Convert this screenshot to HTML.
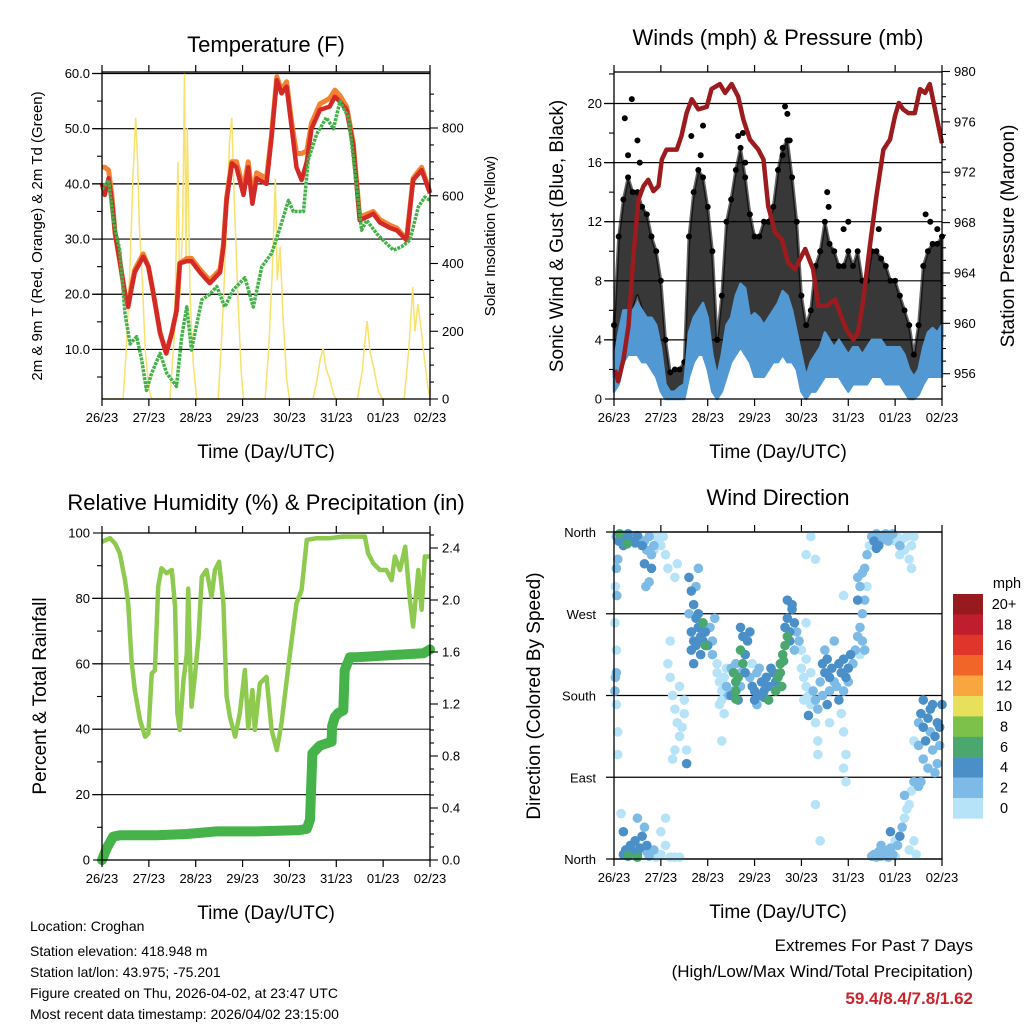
<!DOCTYPE html>
<html><head><meta charset="utf-8"><style>
html,body{margin:0;padding:0;background:#fff;}
svg{display:block;font-family:"Liberation Sans",Arial,sans-serif;}
</style></head><body>
<svg id="c" width="1024" height="1024" viewBox="0 0 1024 1024" xmlns="http://www.w3.org/2000/svg"></svg>
<script>
// ---------- DATA ----------
const dayLabels = ["26/23","27/23","28/23","29/23","30/23","31/23","01/23","02/23"];
// Temperature panel
const tempT = [0,.06,.14,.21,.28,.38,.49,.56,.63,.70,.88,.99,1.10,1.24,1.37,1.49,1.59,1.66,1.81,1.91,2.09,2.30,2.52,2.59,2.66,2.77,2.87,3.02,3.12,3.21,3.30,3.51,3.62,3.73,3.83,3.94,4.05,4.15,4.26,4.37,4.47,4.65,4.86,4.97,5.08,5.22,5.36,5.50,5.65,5.79,5.93,6.15,6.29,6.50,6.64,6.82,7.0];
const temp2m = [40,38,41,37,31,26,20,17.7,21,24,26.8,25,20,13,9.3,13,17,25.6,26,26,24,22,24,28.6,37,43.7,43,38,43,36.4,41,40,48.5,58.8,56.4,57.6,50,43,40.7,44,50,53.4,54,55.8,54.9,53.4,47,33.4,34,34.6,33,32,31.6,29.8,40.7,42.5,38.3];
const temp9m = [43,43,42.5,38,31,26,20,18,21.5,24.5,27.3,25,20,13,9.3,13,17,25.6,26.5,26.5,24.5,22.5,24.5,29,37.5,44,44,39,44,37.5,42,41,49,59.4,57,58.5,51,45.5,45.5,46,51,54.5,55.5,57,56,54,47.5,34,34.5,35,33.5,32.5,32,30,41,43,38.5];
const dewT = [0,.14,.24,.38,.49,.60,.74,.85,.95,1.06,1.24,1.38,1.59,1.70,1.81,1.91,2.13,2.30,2.45,2.62,2.80,3.05,3.23,3.41,3.62,3.76,3.98,4.08,4.30,4.40,4.58,4.79,4.94,5.08,5.26,5.36,5.54,5.65,5.86,6.07,6.22,6.39,6.57,6.75,6.89,7.0];
const dewVal = [39,40.7,33.4,28,16.5,11,12.3,8,2.6,5.7,9.3,5.7,3.3,12.3,17.7,9.9,19,20,21.4,17.7,20.8,23,17.7,25,27.4,31,37,35,35,44.3,49,52,50,55,52,44.9,31.6,33.4,31,29.2,28,28.6,29.8,35.8,37.6,37];
const solarT = [0,.45,.52,.6,.66,.72,.76,.8,.86,.92,1.0,1.06,1.45,1.55,1.62,1.66,1.72,1.76,1.79,1.82,1.88,1.95,2.02,2.48,2.56,2.64,2.72,2.77,2.82,2.9,2.97,3.02,3.48,3.56,3.64,3.7,3.74,3.8,3.86,3.94,4.0,4.5,4.58,4.66,4.72,4.78,4.86,4.95,5.0,5.45,5.55,5.62,5.66,5.72,5.8,5.9,6.0,6.45,6.55,6.63,6.68,6.74,6.8,6.88,6.95,7.0];
const solarVal = [0,0,150,400,650,830,700,500,350,150,30,0,0,200,700,300,500,960,400,800,300,100,0,0,200,450,760,830,600,300,80,0,0,150,400,650,350,450,250,60,0,0,50,120,150,90,60,10,0,0,80,180,230,140,90,20,0,0,150,330,200,280,220,120,40,0];
// Winds panel (every 0.1 day from 0 to 7)
const windLo = [0.5,1,2.5,3,3,3,2.5,2.5,2,1.5, 0.5,0,0,0,0,0,1.5,2.5,3,3, 2,0.5,0,0.5,1.5,2.5,3,3.5,3,2.5, 1.5,1.5,1.5,2,2.5,2.5,3,2.5,2.5,2, 0.5,0,0.5,0.5,1,1.5,1.5,1.5,1.5,1, 0.5,1,1,1,1,1.5,1.5,1.5,1,1, 1,1,0.5,0,0,0.3,1,1.5,1.5,1.5, 1.5];
const windHi = [2.5,4.5,6,6,6,6.5,6,5.5,5.5,5, 3.5,1,0.5,0.5,0.8,1,4.5,5.5,6,6.5, 5.5,3,1.5,3,5,5.5,7,7.8,7.5,5.5, 5.8,5.5,5,5.5,6,6.5,7.3,7,6,4.5, 3,1.5,2.5,3,3.5,4.5,4,3.5,4,3.5, 3,3.5,3.5,3,3.5,4,4,4,3.5,3.5, 3.5,3.5,3,2,1.5,2,3.5,4.5,4.8,4.5, 5];
const gustLo = [1.5,3,5,6,6,7,6,5.5,4.5,3, 2,1,0.5,0.5,0.5,0.5,3,5,6,6, 4,2,0.5,1,3,5,6,6,6,5, 4,5,5,4.5,5,6,6.5,6,5,4, 1.5,1,1,2,3,4,4,3.5,3,3, 2.5,3,2,1.5,2,3,3.5,3.5,3,3, 2.5,2,1.5,1,0.5,1,3,4,4.5,4, 4];
const gustHi = [5,11,13.5,15,14,14,13,12.5,11,10, 8,4,1.8,2,2,2.5,11,14,15.5,15, 13,10,4,7,12,13.5,15.5,17,15,12.5, 11,11,12,12,13,15.5,17,17.5,15,12, 7,5,6,9,10,12,10.5,10,9,9, 10,9,10,8,8,10,10,9.5,9,8, 8,7,6,5,3,5,9,10,10.5,10.5, 11];
const gustOutT = [0.38,0.23,0.5,0.55,0.3,1.65,1.9,1.85,2.75,2.65,2.8,3.65,3.7,3.75,3.6,4.55,4.58,4.9,5.65,5.0,6.65,6.75,6.9];
const gustOutV = [20.3,19,17.5,16,16.5,17.8,18.5,16.5,18,17.8,16,19.8,19.3,17.5,16.5,14,13,11.5,11.5,12,12.5,12,11.5];
const presT = [.02,.09,.20,.31,.41,.52,.63,.73,.84,.95,1.02,1.12,1.34,1.44,1.55,1.66,1.80,1.98,2.08,2.26,2.37,2.51,2.65,2.76,2.90,3.08,3.19,3.29,3.44,3.58,3.72,3.86,4.08,4.25,4.36,4.54,4.72,4.82,4.96,5.11,5.21,5.32,5.46,5.60,5.75,5.89,6.00,6.08,6.17,6.28,6.42,6.53,6.64,6.74,6.85,7.0];
const presVal = [956.3,955.4,957.1,959.8,965.1,969.8,970.9,971.4,970.5,970.9,973,973.8,973.8,974.9,976.7,977.8,977,977.2,978.6,979,978.3,979,978,976.2,974.6,973.8,973,969.3,967.2,966.7,964.8,964.3,965.9,964.3,961.4,961.4,961.9,960.8,959.5,958.7,959.3,961.9,966.1,970.1,973.8,974.6,976.5,977.5,977,976.7,976.7,978.6,978.3,979,977,974.3];
// RH & precipitation panel
const rhT = [0,.17,.28,.38,.49,.56,.63,.70,.81,.92,.99,1.06,1.13,1.20,1.27,1.38,1.49,1.56,1.61,1.66,1.74,1.81,1.84,1.91,1.98,2.06,2.13,2.23,2.34,2.41,2.50,2.59,2.66,2.73,2.84,2.94,3.05,3.12,3.21,3.26,3.37,3.51,3.62,3.73,3.83,4.01,4.15,4.26,4.37,4.58,4.86,5.15,5.43,5.61,5.68,5.79,5.93,6.07,6.18,6.25,6.36,6.47,6.57,6.64,6.75,6.82,6.89,7.0];
const rhVal = [97.3,98.4,96.8,93.8,85.6,78.5,61,52,42.8,37.7,38.7,57,58,83.6,89.2,87.7,88.7,77.5,44.9,39.8,55,63,83,46.9,56,68,86.6,88.7,80.5,88.7,91.2,78.5,50,43.8,37.7,44.9,58.1,40.3,52,39.8,54,56,39.8,33.6,41.8,63,78.5,82.6,97.9,98.4,98.4,98.9,98.9,98.9,93.8,90.7,88.7,88.7,85.6,92.8,88.7,95.8,79.5,71.4,88.7,76.5,92.8,92.8];
const rainT = [0,.10,.24,.38,1.17,1.81,2.45,3.30,4.22,4.37,4.44,4.49,4.65,4.90,4.91,4.97,5.04,5.15,5.18,5.29,5.43,6.86,7.0];
const rainVal = [0,0.09,0.18,0.19,0.19,0.2,0.22,0.22,0.23,0.24,0.31,0.82,0.88,0.91,1.03,1.1,1.13,1.15,1.46,1.56,1.56,1.59,1.62];
// Wind direction panel
const dirT = [0.05,0.1,0.15,0.2,0.25,0.3,0.35,0.4,0.45,0.5,0.55,0.6,0.65,0.7,0.75,0.8,0.85,0.9,0.12,0.28,0.08,0.05,0.65,0.8,0.68,0.75,0.85,0.95,1.0,1.05,1.1,1.15,
0.03,0.06,0.02,0.05,0.03,0.02,0.05,0.08,0.08,0.05,
0.2,0.25,0.3,0.35,0.4,0.45,0.5,0.55,0.6,0.65,0.7,0.75,0.85,0.9,1.0,1.1,1.2,1.3,1.4,0.3,0.5,0.2,0.7,0.5,1.1,1.0,0.15,
1.2,1.25,1.3,1.35,1.4,1.45,1.5,1.55,1.4,1.3,1.25,1.55,1.5,1.15,1.2,1.3,1.35,
1.6,1.65,1.7,1.75,1.8,1.85,1.9,1.95,2.0,2.05,2.1,1.65,1.7,1.75,1.8,1.9,1.95,1.85,1.7,1.75,1.8,1.6,2.1,2.15,1.65,
2.2,2.25,2.3,2.35,2.4,2.45,2.5,2.55,2.6,2.65,2.7,2.3,2.2,2.25,2.4,2.5,2.6,2.7,2.35,2.3,
2.55,2.6,2.65,2.7,2.75,2.8,2.75,2.7,2.85,2.9,2.6,2.8,2.6,
2.9,2.95,3.0,3.05,3.1,3.15,3.2,3.25,3.3,3.35,3.4,3.45,3.0,3.2,3.1,2.95,3.05,3.3,3.45,
3.5,3.55,3.6,3.65,3.7,3.55,3.62,3.58,
3.65,3.7,3.75,3.8,3.85,3.9,3.95,3.75,3.85,3.7,3.8,4.0,4.1,4.1,4.2,4.3,
4.0,4.05,4.1,4.15,4.2,4.25,4.3,4.35,4.4,4.45,4.1,4.2,4.3,4.35,4.35,4.3,4.4,4.15,4.05,
4.45,4.5,4.55,4.6,4.65,4.7,4.75,4.8,4.85,4.9,4.95,5.0,5.05,5.1,5.15,4.5,4.6,4.7,4.9,5.0,4.8,4.85,4.9,4.95,4.9,4.95,4.55,4.6,4.9,
5.2,5.25,5.3,5.35,5.3,5.35,5.25,5.25,5.3,5.35,5.4,5.45,5.2,5.2,5.4,
5.5,5.55,5.6,5.65,5.7,5.75,5.8,5.85,5.9,5.95,6.0,6.05,6.1,6.15,6.2,6.25,6.3,6.35,6.4,6.35,5.6,6.1,
5.5,5.55,5.6,5.65,5.7,5.75,5.8,5.85,5.9,5.95,6.0,6.05,6.1,6.15,6.2,6.25,6.3,6.35,6.4,6.45,5.9,6.0,6.2,6.3,5.7,6.4,6.55,6.5,
6.5,6.55,6.6,6.65,6.7,6.75,6.8,6.85,6.9,6.95,7.0,6.6,6.7,6.8,6.9,6.5,6.6,6.75,6.85,6.95,6.4];
const dirDeg = [355,350,357,345,352,358,350,354,348,356,352,345,350,340,355,335,345,355,358,347,330,320,325,320,300,305,340,350,345,355,335,320,
300,290,260,230,200,185,170,140,115,205,
5,10,3,15,8,20,5,12,25,35,8,3,10,2,5,15,2,2,2,4,2,30,15,45,45,30,50,
200,180,165,150,135,145,160,120,190,120,110,105,175,215,240,310,325,
310,295,280,265,255,245,240,250,235,255,240,250,240,235,270,260,235,225,215,300,320,270,225,265,230,
205,195,185,200,190,180,210,185,195,175,190,175,215,170,210,180,215,205,160,130,
205,195,200,230,215,225,245,255,240,250,185,205,176,
200,190,185,205,180,195,185,200,190,210,205,195,175,178,210,215,170,175,185,
200,215,225,235,245,205,218,190,
255,265,250,275,260,250,240,240,230,285,280,230,260,335,355,330,
210,200,190,180,170,185,175,165,195,180,220,205,150,130,115,60,20,158,175,
215,205,220,200,210,195,190,215,205,220,200,210,225,215,230,230,185,240,185,195,175,160,140,115,100,85,170,150,290,
245,255,270,285,240,230,225,300,315,320,335,345,285,310,300,
355,350,358,345,356,352,358,350,356,358,350,355,345,352,340,355,330,320,355,345,342,335,
3,5,2,8,3,10,4,2,12,5,3,15,25,35,45,55,60,75,20,5,30,20,70,10,15,85,85,80,
150,160,145,130,155,140,120,135,150,125,170,110,100,170,105,125,175,165,95,145,130];
const dirSpd = [3,5,5,5,5,5,5,3,5,5,3,5,3,3,3,3,3,1,7,7,3,3,5,5,3,3,1,1,1,1,1,1,
1,3,1,1,3,3,1,1,1,3,
5,5,5,5,5,5,5,5,5,3,3,3,3,1,1,1,1,1,1,7,7,5,5,3,1,1,1,
1,1,1,1,1,1,1,1,1,1,1,5,1,1,1,1,1,
5,5,5,5,5,5,5,5,5,3,3,5,5,5,5,7,7,5,5,3,3,3,3,3,5,
1,1,1,1,3,3,3,3,3,5,3,1,1,1,1,5,3,3,1,1,
7,7,7,7,7,5,5,5,5,5,7,5,7,
3,5,5,3,5,5,5,5,5,5,5,5,5,5,3,1,3,7,7,
7,7,7,7,7,7,7,7,
5,5,5,5,5,3,3,5,3,5,5,1,1,1,1,1,
1,1,1,1,1,3,3,3,3,3,1,1,1,1,1,1,1,5,1,
5,5,5,5,5,3,3,5,5,5,5,5,5,3,3,3,3,3,3,3,5,1,1,1,1,1,5,1,1,
3,3,3,3,3,3,1,3,3,3,3,1,5,3,1,
3,5,3,5,3,3,3,3,3,3,1,1,3,1,1,1,1,1,1,1,5,1,
3,3,3,3,3,3,3,3,3,3,1,3,5,3,1,1,1,1,1,1,5,1,3,1,3,3,3,3,
3,5,5,5,5,3,3,5,5,3,5,3,3,5,3,3,5,5,3,5,1];
const cbLabels = ["20+","18","16","14","12","10","8","6","4","2","0"];
const cbColors = ["#961a1e","#be1e2d","#e0352b","#f26529","#f9a540","#e8e05a","#7cc24a","#4aa86e","#4a8fc8","#7dbbe6","#b6e3f8"];

// ---------- HELPERS ----------
const NS="http://www.w3.org/2000/svg";
const svg=document.getElementById('c');
function mk(tag,attrs,parent,txt){const e=document.createElementNS(NS,tag);for(const k in attrs)e.setAttribute(k,attrs[k]);if(txt!==undefined)e.textContent=txt;(parent||svg).appendChild(e);return e;}
function grp(name){const g=mk('g',{});return g;}
function lin(d0,d1,r0,r1){return v=>r0+(v-d0)/(d1-d0)*(r1-r0);}
function pathFrom(ts,vs,xf,yf){return ts.map((t,i)=>(i?'L':'M')+xf(t).toFixed(1)+','+yf(vs[i]).toFixed(1)).join('');}
function text(g,x,y,s,size,anchor,extra){const a=Object.assign({x:x,y:y,'font-size':size,'text-anchor':anchor||'middle',fill:'#000'},extra||{});return mk('text',a,g,s);}

function frame(g,L,R,T,B){
  mk('rect',{x:L,y:T,width:R-L,height:B-T,fill:'none',stroke:'#000','stroke-width':1.3},g);
}
function xAxis(g,L,R,T,B){
  const xs=lin(0,7,L,R);
  for(let i=0;i<8;i++){
    const x=xs(i);
    mk('line',{x1:x,y1:B,x2:x,y2:B+7,stroke:'#000','stroke-width':1.2},g);
    mk('line',{x1:x,y1:T,x2:x,y2:T-7,stroke:'#000','stroke-width':1.2},g);
    const lab=text(g,x,B+23,dayLabels[i],13);
    
    
  }
  const tt=text(g,(L+R)/2,B+59,'Time (Day/UTC)',19);
  
  
  return xs;
}
function yTicks(g,side,edge,ys,vals,fmt,len){
  vals.forEach(v=>{const y=ys(v);
    const x2=side==='L'?edge-len:edge+len;
    mk('line',{x1:edge,y1:y,x2:x2,y2:y,stroke:'#000','stroke-width':1.1},g);
    if(fmt){const t=text(g,side==='L'?edge-12:edge+12,y+4.5,fmt(v),13,side==='L'?'end':'start');
      
      }
  });
}
function vtitle(g,x,y,s,size,name){const t=text(g,x,y,s,size,'middle',{transform:'rotate(-90 '+x+' '+y+')'});
  
  return t;}

// ---------- PANEL 1: Temperature ----------
(function(){
  const g=grp('temperature-panel');
  const L=102,R=430,T=72,B=399;
  const xs=lin(0,7,L,R), ys=lin(0,60,404.6,73.5), ss=lin(0,800,399,128);
  [10,20,30,40,50,60].forEach(v=>mk('line',{x1:L-10,y1:ys(v),x2:R,y2:ys(v),stroke:'#000','stroke-width':1.2},g));
  mk('path',{d:pathFrom(solarT,solarVal,xs,ss),fill:'none',stroke:'#f8e16c','stroke-width':1.5},g);
  mk('path',{d:pathFrom(tempT,temp9m,xs,ys),fill:'none',stroke:'#f58231','stroke-width':5,'stroke-linejoin':'round'},g);
  mk('path',{d:pathFrom(tempT,temp2m,xs,ys),fill:'none',stroke:'#d42a27','stroke-width':4.5,'stroke-linejoin':'round'},g);
  mk('path',{d:pathFrom(dewT,dewVal,xs,ys),fill:'none',stroke:'#46b04a','stroke-width':3.5,'stroke-linejoin':'round','stroke-dasharray':'3 1'},g);
  frame(g,L,R,T,B);
  yTicks(g,'L',L,ys,[10,20,30,40,50,60],v=>v.toFixed(1),9);
  yTicks(g,'L',L,ys,[5,15,25,35,45,55],null,5);
  yTicks(g,'R',R,ss,[0,200,400,600,800],v=>String(v),8);
  yTicks(g,'R',R,ss,[50,100,150,250,300,350,450,500,550,650,700,750,850,900],null,4);
  xAxis(g,L,R,T,B);
  const t=text(g,266,52,'Temperature (F)',22);
  vtitle(g,42,236,'2m & 9m T (Red, Orange) & 2m Td (Green)',15,'temperature-y-title');
  vtitle(g,495,236,'Solar Insolation (Yellow)',15,'solar-y-title');
})();

// ---------- PANEL 2: Winds ----------
(function(){
  const g=grp('winds-panel');
  const L=614,R=942,T=72,B=399;
  const xs=lin(0,7,L,R), ys=lin(0,20,399,103.5), ps=lin(956,980,373.7,71.5);
  [4,8,12,16,20].forEach(v=>mk('line',{x1:L-10,y1:ys(v),x2:R,y2:ys(v),stroke:'#000','stroke-width':1.2},g));
  const idx=gustLo.map((_,i)=>i*0.1);
  let d='M'+idx.map((t,i)=>xs(t).toFixed(1)+','+ys(gustHi[i]).toFixed(1)).join('L');
  d+='L'+idx.slice().reverse().map((t,j)=>{const i=idx.length-1-j;return xs(t).toFixed(1)+','+ys(gustLo[i]).toFixed(1);}).join('L')+'Z';
  mk('path',{d:d,fill:'#000','fill-opacity':0.78,stroke:'#000','stroke-width':3,'stroke-linejoin':'round','stroke-opacity':0.6},g);
  idx.forEach((t,i)=>{const c=mk('circle',{cx:xs(t),cy:ys(gustHi[i]),r:3,fill:'#000'},g);
    });
  gustOutT.forEach((t,i)=>{const c=mk('circle',{cx:xs(t),cy:ys(gustOutV[i]),r:3,fill:'#000'},g);
    });
  let w='M'+idx.map((t,i)=>xs(t).toFixed(1)+','+ys(windHi[i]).toFixed(1)).join('L');
  w+='L'+idx.slice().reverse().map((t,j)=>{const i=idx.length-1-j;return xs(t).toFixed(1)+','+ys(windLo[i]).toFixed(1);}).join('L')+'Z';
  mk('path',{d:w,fill:'#5298d2',stroke:'#5298d2','stroke-width':2.5,'stroke-linejoin':'round'},g);
  mk('path',{d:pathFrom(presT,presVal,xs,ps),fill:'none',stroke:'#9b1b1e','stroke-width':4.5,'stroke-linejoin':'round'},g);
  frame(g,L,R,T,B);
  yTicks(g,'L',L,ys,[0,4,8,12,16,20],v=>String(v),9);
  yTicks(g,'L',L,ys,[2,6,10,14,18,22],null,5);
  yTicks(g,'R',R,ps,[956,960,964,968,972,976,980],v=>String(v),8);
  yTicks(g,'R',R,ps,[955,957,958,959,961,962,963,965,966,967,969,970,971,973,974,975,977,978,979],null,4);
  xAxis(g,L,R,T,B);
  const t=text(g,778,45,'Winds (mph) & Pressure (mb)',22);
  vtitle(g,563,236,'Sonic Wind & Gust (Blue, Black)',19,'wind-y-title');
  vtitle(g,1014,236,'Station Pressure (Maroon)',19,'pressure-y-title');
})();

// ---------- PANEL 3: RH & Precip ----------
(function(){
  const g=grp('humidity-panel');
  const L=102,R=430,T=533,B=860;
  const xs=lin(0,7,L,R), ys=lin(0,100,860,533), rs=lin(0,2.4,860,548);
  [20,40,60,80].forEach(v=>mk('line',{x1:L-10,y1:ys(v),x2:R,y2:ys(v),stroke:'#222','stroke-width':1.2},g));
  mk('path',{d:pathFrom(rhT,rhVal,xs,ys),fill:'none',stroke:'#8fca50','stroke-width':4.5,'stroke-linejoin':'round'},g);
  mk('path',{d:pathFrom(rainT,rainVal,xs,rs),fill:'none',stroke:'#45b349','stroke-width':10,'stroke-linejoin':'round','stroke-linecap':'round'},g);
  frame(g,L,R,T,B);
  yTicks(g,'L',L,ys,[0,20,40,60,80,100],v=>String(v),9);
  yTicks(g,'L',L,ys,[10,30,50,70,90],null,5);
  yTicks(g,'R',R,rs,[0,0.4,0.8,1.2,1.6,2.0,2.4],v=>v.toFixed(1),8);
  yTicks(g,'R',R,rs,[0.1,0.2,0.3,0.5,0.6,0.7,0.9,1.0,1.1,1.3,1.4,1.5,1.7,1.8,1.9,2.1,2.2,2.3,2.5],null,4);
  xAxis(g,L,R,T,B);
  const t=text(g,266,510,'Relative Humidity (%) & Precipitation (in)',22);
  vtitle(g,46,696,'Percent & Total Rainfall',19,'humidity-y-title');
})();

// ---------- PANEL 4: Wind direction ----------
(function(){
  const g=grp('wind-direction-panel');
  const L=614,R=942,T=532,B=859;
  const xs=lin(0,7,L,R), ys=lin(0,360,B,T);
  const names=['North','East','South','West','North'];
  [0,90,180,270,360].forEach((v,i)=>{
    mk('line',{x1:L-8,y1:ys(v),x2:R,y2:ys(v),stroke:'#000','stroke-width':1.2},g);
    const t=text(g,L-18,ys(v)+5,names[i],13,'end');
    
    
  });
  const colorOf=s=>s>=8?cbColors[6]:s>=6?cbColors[7]:s>=4?cbColors[8]:s>=2?cbColors[9]:cbColors[10];
  const order=dirT.map((_,i)=>i).sort((a,b)=>dirSpd[a]-dirSpd[b]);
  order.forEach(i=>{
    const c=mk('circle',{cx:xs(dirT[i]),cy:ys(dirDeg[i]),r:4.8,fill:colorOf(dirSpd[i])},g);
    
  });
  frame(g,L,R,T,B);
  xAxis(g,L,R,T,B);
  const t=text(g,778,505,'Wind Direction',22);
  vtitle(g,540,696,'Direction (Colored By Speed)',19,'direction-y-title');
  // colorbar
  const cb=grp('speed-colorbar');
  const u=text(cb,1007,588,'mph',14.5);
  cbColors.forEach((col,i)=>{
    const r=mk('rect',{x:953,y:594+i*20.4,width:30,height:20.6,fill:col},cb);
    
    const l=text(cb,1004,594+i*20.4+15,cbLabels[i],14.5);
    
    
  });
})();

// ---------- FOOTER TEXT ----------
(function(){
  const g=grp('station-info');
  const lines=['Location: Croghan','Station elevation: 418.948 m','Station lat/lon: 43.975; -75.201','Figure created on Thu, 2026-04-02, at 23:47 UTC','Most recent data timestamp: 2026/04/02 23:15:00'];
  const ys=[935,960,981,1002,1023];
  lines.forEach((s,i)=>{const t=text(g,30,ys[i]-4,s,14,'start');});
  const h=grp('extremes-summary');
  let t=text(h,973,951,'Extremes For Past 7 Days',17,'end');
  t=text(h,973,977,'(High/Low/Max Wind/Total Precipitation)',17,'end');
  t=text(h,973,1004,'59.4/8.4/7.8/1.62',17,'end',{fill:'#cc2229','font-weight':'bold'});
})();
</script>
</body></html>
